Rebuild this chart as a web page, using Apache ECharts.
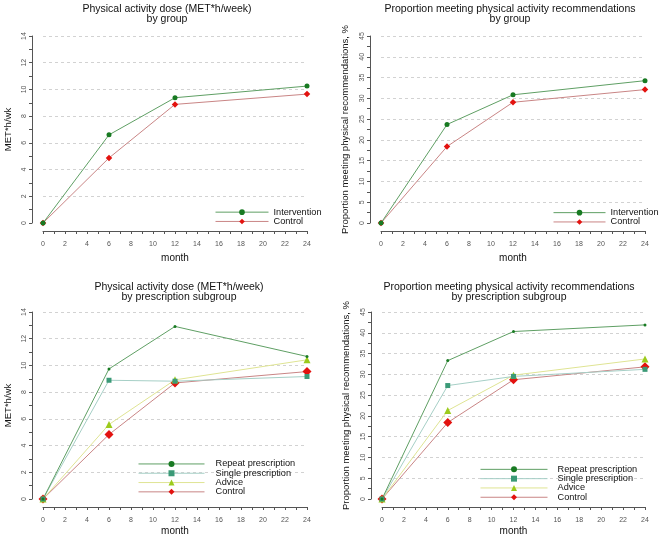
<!DOCTYPE html>
<html><head><meta charset="utf-8">
<script src="https://cdn.jsdelivr.net/npm/echarts@6/dist/echarts.min.js"></script>
<style>html,body{margin:0;padding:0;background:#fff}#c{width:661px;height:538px}</style>
</head><body><div id="c"></div>
<script>
// ---- data ----
const months = [0, 6, 12, 24];
const doseIntervention = [0, 6.6, 9.38, 10.25];
const doseControl = [0, 4.87, 8.88, 9.65];
const propIntervention = [0, 23.7, 30.85, 34.25];
const propControl = [0, 18.4, 29.05, 32.1];
const doseRepeat = [0, 9.74, 12.92, 10.67];
const doseSingle = [0, 8.89, 8.82, 9.17];
const doseAdvice = [0, 5.58, 8.92, 10.42];
const doseControlSub = [0, 4.83, 8.69, 9.54];
const propRepeat = [0, 33.3, 40.3, 41.9];
const propSingle = [0, 27.3, 29.5, 31.2];
const propAdvice = [0, 21.3, 29.8, 33.7];
const propControlSub = [0, 18.4, 28.7, 31.8];
const titles = [
  'Physical activity dose (MET*h/week)\nby group',
  'Proportion meeting physical activity recommendations\nby group',
  'Physical activity dose (MET*h/week)\nby prescription subgroup',
  'Proportion meeting physical activity recommendations\nby prescription subgroup'
];
const yNames = ['MET*h/wk', 'Proportion meeting physical recommendations, %'];
const xName = 'month';
const groupNames = ['Intervention', 'Control'];
const subNames = ['Repeat prescription', 'Single prescription', 'Advice', 'Control'];

// ---- styling ----
const FONT = 'Liberation Sans, Arial, Helvetica, sans-serif';
const AXC = '#555';
const pair = (ys) => months.map((m, i) => [m, ys[i]]);

function xAxis(gi, offset, gap) {
  return {
    type: 'value', gridIndex: gi, min: 0, max: 24, interval: 2, offset: offset,
    name: xName, nameLocation: 'middle', nameGap: gap,
    nameTextStyle: {fontSize: 10, color: '#111', fontFamily: FONT},
    axisLine: {show: true, onZero: false, lineStyle: {color: AXC, width: 1}},
    axisTick: {show: true, length: 3, lineStyle: {color: AXC}},
    minorTick: {show: true, splitNumber: 2, length: 3, lineStyle: {color: AXC}},
    axisLabel: {fontSize: 7, color: '#555', margin: 9.5, fontFamily: FONT},
    splitLine: {show: false}
  };
}
function yAxis(gi, max, interval, name, gap) {
  return {
    type: 'value', gridIndex: gi, min: 0, max: max, interval: interval, offset: 11,
    name: name, nameLocation: 'middle', nameGap: gap, nameRotate: 90,
    nameTextStyle: {fontSize: 9.5, color: '#111', fontFamily: FONT},
    axisLine: {show: true, onZero: false, lineStyle: {color: AXC, width: 1}},
    axisTick: {show: true, length: 3, lineStyle: {color: AXC}},
    minorTick: {show: true, splitNumber: 2, length: 3, lineStyle: {color: AXC}},
    axisLabel: {fontSize: 7, color: '#555', margin: 4, rotate: 90, fontFamily: FONT},
    splitLine: {show: true, showMinLine: false, lineStyle: {color: '#d2d2d2', type: [3, 3], width: 1}}
  };
}
function line(name, gi, ys, mColor, lColor, symbol, size) {
  return {
    type: 'line', name: name, xAxisIndex: gi, yAxisIndex: gi, data: pair(ys),
    symbol: symbol, symbolSize: size, showSymbol: true,
    itemStyle: {color: mColor, borderWidth: 0},
    lineStyle: {color: lColor, width: 1},
    emphasis: {disabled: true}
  };
}
function legend(left, top, width, names, padLeft, ih) {
  return {
    orient: 'vertical', left: left, top: top, padding: 0,
    itemWidth: width, itemHeight: ih, itemGap: 0, data: names,
    selectedMode: false,
    lineStyle: {width: 1},
    textStyle: {fontSize: 9.2, lineHeight: 9.3, color: '#111', fontFamily: FONT, padding: [0, 0, 0, padLeft]}
  };
}
function title(text, left, top) {
  return {
    text: text, left: left, top: top, padding: 0, textAlign: 'center',
    textStyle: {fontSize: 10.5, fontWeight: 'normal', color: '#111', lineHeight: 10, fontFamily: FONT}
  };
}

const G = {green: '#187a22', greenL: '#5f9f64', red: '#e3120f', redL: '#c98585',
  teal: '#3b9a77', tealL: '#a6cfc6', yg: '#9ccb1c', ygL: '#dfe493'};

const option = {
  animation: false,
  backgroundColor: '#fff',
  title: [
    title(titles[0], 167, 4), title(titles[1], 510, 4),
    title(titles[2], 179, 282), title(titles[3], 509, 282)
  ],
  grid: [
    {left: 43, top: 36, width: 264, height: 187},
    {left: 381, top: 36, width: 264, height: 187},
    {left: 43, top: 312, width: 264, height: 187},
    {left: 382, top: 312, width: 263, height: 187}
  ],
  xAxis: [xAxis(0, 8, 22), xAxis(1, 8, 22), xAxis(2, 8, 19), xAxis(3, 8, 19)],
  yAxis: [yAxis(0, 14, 2, yNames[0], 19), yAxis(1, 45, 5, yNames[1], 20),
          yAxis(2, 14, 2, yNames[0], 19), yAxis(3, 45, 5, yNames[1], 20)],
  legend: [
    legend(215, 207.5, 53, groupNames, 0, 7),
    legend(553, 208, 52, groupNames, 0, 7),
    legend(138, 459.3, 66, subNames, 6, 7.5),
    legend(480, 464.7, 67, subNames, 5, 7.5)
  ],
  series: [
    line('Control', 0, doseControl, G.red, G.redL, 'diamond', 6.5),
    line('Intervention', 0, doseIntervention, G.green, G.greenL, 'circle', 5),
    line('Control', 1, propControl, G.red, G.redL, 'diamond', 6.5),
    line('Intervention', 1, propIntervention, G.green, G.greenL, 'circle', 5),
    line('Control', 2, doseControlSub, G.red, G.redL, 'diamond', 9),
    line('Advice', 2, doseAdvice, G.yg, G.ygL, 'triangle', 7),
    line('Single prescription', 2, doseSingle, G.teal, G.tealL, 'rect', 5),
    line('Repeat prescription', 2, doseRepeat, G.green, G.greenL, 'circle', 3),
    line('Control', 3, propControlSub, G.red, G.redL, 'diamond', 9),
    line('Advice', 3, propAdvice, G.yg, G.ygL, 'triangle', 7),
    line('Single prescription', 3, propSingle, G.teal, G.tealL, 'rect', 5),
    line('Repeat prescription', 3, propRepeat, G.green, G.greenL, 'circle', 3)
  ]
};
const chart = echarts.init(document.getElementById('c'), null, {renderer: 'canvas'});
chart.setOption(option);
</script>
</body></html>
